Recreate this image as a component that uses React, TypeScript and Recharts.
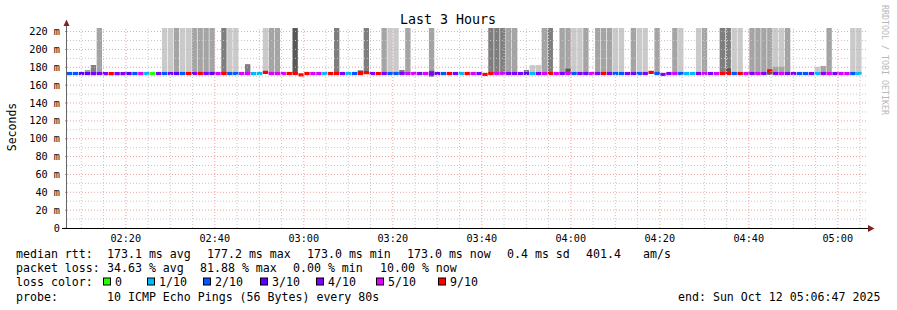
import React from "react";
import { ComposedChart, Bar, Cell, XAxis, YAxis, ReferenceLine } from "recharts";

// time window of the graph (80s step, 3 hours)
const startTime = "02:06:47";
const endTime = "05:06:47";
const stepSeconds = 80;

const xTickLabels = ["02:20", "02:40", "03:00", "03:20", "03:40", "04:00", "04:20", "04:40", "05:00"];
const xMinorLabels = [
  "02:10", "02:15", "02:25", "02:30", "02:35", "02:45", "02:50", "02:55", "03:05", "03:10", "03:15",
  "03:25", "03:30", "03:35", "03:45", "03:50", "03:55", "04:05", "04:10", "04:15", "04:25", "04:30",
  "04:35", "04:45", "04:50", "04:55", "05:05",
];
const yTicks = [0, 20, 40, 60, 80, 100, 120, 140, 160, 180, 200, 220];
const yMinorTicks = [10, 30, 50, 70, 90, 110, 130, 150, 170, 190, 210];

const lossLabels = ["0", "1/10", "2/10", "3/10", "4/10", "5/10", "9/10"];
const lossColors = ["#26ff00", "#00b8ff", "#0059ff", "#5e00ff", "#7e00ff", "#dd00ff", "#ff0000"];

// loss level (index into lossColors) per 80s step
const lossLevel = [
  2, 2, 3, 3, 4, 4, 4, 6, 4, 4,
  3, 2, 5, 1, 0, 4, 2, 4, 3, 2,
  6, 4, 6, 4, 3, 5, 6, 2, 2, 5,
  5, 1, 1, 6, 5, 5, 5, 6, 6, 6,
  6, 5, 5, 1, 6, 6, 4, 1, 2, 6,
  6, 4, 6, 4, 2, 2, 4, 5, 5, 4,
  5, 4, 3, 2, 6, 4, 1, 6, 5, 4,
  6, 6, 5, 5, 4, 4, 4, 3, 1, 4,
  5, 6, 5, 4, 5, 2, 4, 4, 5, 4,
  6, 4, 2, 2, 4, 4, 2, 4, 6, 2,
  4, 4, 5, 2, 1, 1, 4, 5, 4, 5,
  6, 6, 2, 6, 5, 4, 5, 4, 6, 4,
  5, 4, 4, 2, 2, 4, 1, 4, 5, 4,
  5, 5, 2, 1,
];

// median rtt in ms per step
const medianRtt = [
  173, 173, 173, 173, 173, 173, 173, 173, 173, 173,
  173, 173, 173, 173, 173, 173, 173, 173, 173, 173,
  173, 173, 173, 173, 173, 173, 173, 173, 173, 173,
  173, 173, 173, 174.3, 173, 173, 173, 173, 173, 171.5,
  173, 173, 173, 173, 173, 173, 173, 173, 173, 173,
  174, 173, 173, 173, 173, 173, 173, 173, 173, 173,
  173, 173, 173, 173, 173, 173, 173, 173, 173, 173,
  172, 173, 173, 173, 173, 173, 173, 173, 173, 173,
  173, 173, 173, 173, 173, 173, 173, 173, 173, 173,
  173, 173, 173, 173, 173, 173, 173, 173, 174.3, 173,
  172, 173, 173, 173, 173, 173, 173, 173, 173, 173,
  173, 173, 173, 173, 173, 173, 173, 173, 176, 173,
  173, 173, 173, 173, 173, 173, 173, 173, 173, 173,
  173, 173, 173, 173,
];

// top of the smoke (ms), null = no smoke, 224 = off the top
const smokeTop = [
  null, null, null, 177, 182.5, 224, null, null, null, null,
  null, null, null, null, null, null, 224, 224, 224, 224,
  224, 224, 224, 224, 224, null, 224, 224, 224, null,
  183.5, null, null, 224, 224, 224, null, null, 224, null,
  null, null, null, null, null, 224, null, null, null, 176.5,
  224, null, null, 224, 224, 224, 177, 224, null, null,
  null, 224, null, null, null, null, null, null, null, null,
  null, 224, 224, 224, 224, 224, null, 177, 182.5, 182.5,
  224, 224, null, 224, 224, 224, 224, 224, null, 224,
  224, 224, 224, 224, null, 224, 224, 224, null, 224,
  null, null, 224, 224, null, null, 224, 224, null, null,
  224, 224, 224, 224, null, 224, 224, 224, 224, 224,
  224, 224, null, null, null, null, 180.5, 181.5, 224, null,
  null, null, 224, 224,
];
const smokeShade = [
  "", "", "", "M", "D", "M", "", "", "", "",
  "", "", "", "", "", "", "L", "L", "M", "L",
  "L", "M", "M", "M", "M", "", "D", "L", "L", "",
  "D", "", "", "L", "M", "M", "", "", "X", "",
  "", "", "", "", "", "D", "", "", "", "X",
  "D", "", "", "M", "L", "L", "D", "M", "", "",
  "", "M", "", "", "", "", "", "", "", "",
  "", "D", "D", "D", "M", "M", "", "D", "L", "L",
  "M", "D", "", "M", "M", "L", "L", "M", "", "M",
  "M", "M", "L", "L", "", "M", "L", "L", "", "M",
  "", "", "M", "L", "", "", "L", "M", "", "",
  "D", "D", "L", "L", "", "M", "M", "M", "M", "L",
  "L", "M", "", "", "", "", "L", "M", "M", "",
  "", "", "L", "L",
];

// darker lower parts of the smoke
const innerIndex = [61, 84, 111, 118, 119, 120];
const innerLow = [169.5, 172.5, 172.5, 171.5, 172.5, 172.5];
const innerTop = [176, 178.5, 179, 175, 180.6, 180.6];
const innerShade = ["X", "X", "X", "X", "M", "M"];

const shadeColors: Record<string, string> = { L: "#cacaca", M: "#a4a4a4", D: "#7e7e7e", X: "#585858" };

const toSec = (s: string) => {
  const p = s.split(":").map(Number);
  return p[0] * 3600 + p[1] * 60 + (p[2] || 0);
};
const t0 = toSec(startTime);
const t1 = toSec(endTime);
const smokeBase = 172.5;

const data = medianRtt.map((m, i) => {
  const j = innerIndex.indexOf(i);
  return {
    t: t0 + i * stepSeconds + stepSeconds / 2,
    smoke: smokeTop[i] != null ? [smokeBase, smokeTop[i]] : null,
    smokeFill: shadeColors[smokeShade[i]] || "#fff",
    inner: j >= 0 ? [innerLow[j], innerTop[j]] : null,
    innerFill: j >= 0 ? shadeColors[innerShade[j]] : "#fff",
    med: [m - 1.8, m + 1.8],
    medFill: lossColors[lossLevel[i]],
  };
});

const majorX = xTickLabels.map(toSec);
const minorX = xMinorLabels.map(toSec);

const mono = "DejaVu Sans Mono";
const MAJOR = "#f0a0a0";
const MINOR = "#c8c8c8";

const XTick = (props: any) => {
  const { x, y, payload } = props;
  const i = majorX.indexOf(payload.value);
  if (i < 0) return <g />;
  return (
    <text x={x} y={y + 13.5} textAnchor="middle" fontFamily={mono} fontSize={10.2} fill="#000">
      {xTickLabels[i]}
    </text>
  );
};

const line1: [number, string][] = [
  [16, "median rtt:"], [107, "173.1 ms avg"], [207, "177.2 ms max"], [307, "173.0 ms min"],
  [407, "173.0 ms now"], [507, "0.4 ms sd"], [586, "401.4"], [643, "am/s"],
];
const line2: [number, string][] = [
  [16, "packet loss:"], [107, "34.63 % avg"], [200, "81.88 % max"], [293, "0.00 % min"], [380, "10.00 % now"],
];
const boxLabelX = [115, 159, 215, 272, 328, 388, 450];

export default function App() {
  return (
    <div style={{ position: "absolute", left: 0, top: 0, width: 897, height: 310, background: "#fff" }}>
      <ComposedChart
        width={897}
        height={250}
        data={data}
        margin={{ top: 28, right: 29, bottom: 0, left: 0 }}
      >
        <XAxis
          dataKey="t"
          type="number"
          scale="linear"
          domain={[t0, t1]}
          allowDataOverflow
          ticks={majorX}
          interval={0}
          tickLine={false}
          axisLine={false}
          tickSize={0}
          tickMargin={0}
          height={22}
          tick={<XTick />}
        />
        <XAxis xAxisId="in" dataKey="t" type="number" scale="linear" domain={[t0, t1]} allowDataOverflow hide />
        <XAxis xAxisId="med" dataKey="t" type="number" scale="linear" domain={[t0, t1]} allowDataOverflow hide />
        <YAxis
          type="number"
          domain={[0, 224]}
          ticks={yTicks}
          interval={0}
          allowDataOverflow
          width={67}
          tickFormatter={(v: number) => (v === 0 ? "0" : `${v} m`)}
          axisLine={false}
          tickSize={2}
          tickMargin={5}
          tickLine={{ stroke: "#999" }}
          tick={{ fontFamily: mono, fontSize: 10.2, fill: "#000" }}
        />
        <Bar dataKey="smoke" barSize={6} isAnimationActive={false}>
          {data.map((d, i) => (
            <Cell key={i} fill={d.smokeFill} />
          ))}
        </Bar>
        <Bar dataKey="inner" xAxisId="in" barSize={6} isAnimationActive={false}>
          {data.map((d, i) => (
            <Cell key={i} fill={d.innerFill} />
          ))}
        </Bar>
        {yMinorTicks.map((v) => (
          <ReferenceLine key={"ym" + v} y={v} stroke={MINOR} strokeDasharray="1 2" />
        ))}
        {minorX.map((v) => (
          <ReferenceLine key={"xm" + v} x={v} stroke={MINOR} strokeDasharray="1 2" />
        ))}
        {yTicks.filter((v) => v > 0).map((v) => (
          <ReferenceLine key={"yM" + v} y={v} stroke={MAJOR} strokeDasharray="1 2" />
        ))}
        {majorX.map((v) => (
          <ReferenceLine key={"xM" + v} x={v} stroke={MAJOR} strokeDasharray="1 2" />
        ))}
        <Bar dataKey="med" xAxisId="med" barSize={6} isAnimationActive={false}>
          {data.map((d, i) => (
            <Cell key={i} fill={d.medFill} />
          ))}
        </Bar>
      </ComposedChart>
      <svg
        width={897}
        height={310}
        style={{ position: "absolute", left: 0, top: 0, pointerEvents: "none" }}
        fontFamily={mono}
      >
        <line x1={66.5} y1={228} x2={66.5} y2={21} stroke="#666" strokeWidth={1} />
        <polygon points="63.5,26 69.5,26 66.5,19.5" fill="#802020" />
        <line x1={62} y1={228.5} x2={869} y2={228.5} stroke="#000" strokeWidth={1} />
        <polygon points="868,225 868,232 874.5,228.5" fill="#802020" />
        <text x={448} y={24} textAnchor="middle" fontSize={13.3} fill="#000">Last 3 Hours</text>
        <text transform="translate(15.5,127) rotate(-90)" textAnchor="middle" fontSize={11.5} fill="#000">Seconds</text>
        <text transform="translate(882,5) rotate(90)" fontSize={8.3} fill="#b8b8b8">RRDTOOL / TOBI OETIKER</text>
        {line1.map(([x, s]) => (
          <text key={s} x={x} y={258} fontSize={11.6} fill="#000">{s}</text>
        ))}
        {line2.map(([x, s]) => (
          <text key={s} x={x} y={272} fontSize={11.6} fill="#000">{s}</text>
        ))}
        <text x={16} y={286} fontSize={11.6} fill="#000">loss color:</text>
        {lossLabels.map((l, i) => (
          <g key={l}>
            <rect x={boxLabelX[i] - 11.5} y={278} width={7} height={7} fill={lossColors[i]} stroke="#000" strokeWidth={1} />
            <text x={boxLabelX[i]} y={286} fontSize={11.6} fill="#000">{l}</text>
          </g>
        ))}
        <text x={16} y={300.5} fontSize={11.6} fill="#000">probe:</text>
        <text x={107} y={300.5} fontSize={11.6} fill="#000">10 ICMP Echo Pings (56 Bytes) every 80s</text>
        <text x={678} y={300.5} fontSize={11.6} fill="#000">end: Sun Oct 12 05:06:47 2025</text>
      </svg>
    </div>
  );
}
